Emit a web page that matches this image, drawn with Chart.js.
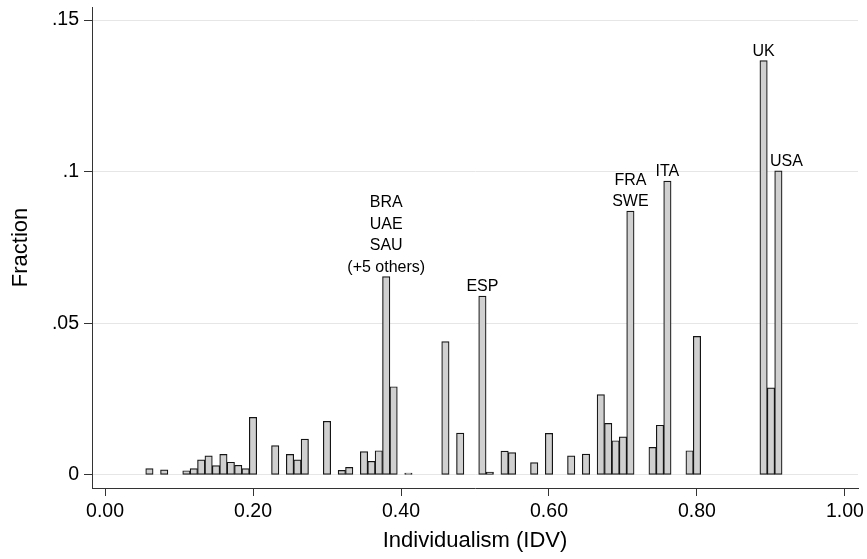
<!DOCTYPE html>
<html><head><meta charset="utf-8">
<script src="https://cdn.jsdelivr.net/npm/chart.js@4/dist/chart.umd.min.js"></script>
<style>html,body{margin:0;padding:0;background:#fff}</style>
</head><body>
<canvas id="c" width="867" height="559"></canvas>
<script>
// ---- data ----
const idvBins = [0.06,0.08,0.11,0.12,0.13,0.14,0.15,0.16,0.17,0.18,0.19,0.20,
  0.23,0.25,0.26,0.27,0.30,0.32,0.33,0.35,0.36,0.37,0.38,0.39,0.41,
  0.46,0.48,0.51,0.52,0.54,0.55,0.58,0.60,0.63,0.65,
  0.67,0.68,0.69,0.70,0.71,0.74,0.75,0.76,0.79,0.80,0.89,0.90,0.91];
const fractions = [0.0021,0.0017,0.0014,0.0021,0.0050,0.0063,0.0031,0.0068,0.0042,0.0032,0.0021,0.0190,
  0.0097,0.0068,0.0050,0.0118,0.0177,0.0015,0.0025,0.0077,0.0045,0.0080,0.0654,0.0291,0.0006,
  0.0440,0.0138,0.0590,0.0010,0.0079,0.0074,0.0041,0.0137,0.0063,0.0069,
  0.0265,0.0170,0.0113,0.0126,0.0870,0.0091,0.0164,0.0969,0.0080,0.0457,0.1366,0.0287,0.1003];
const xTickValues = [0, 0.2, 0.4, 0.6, 0.8, 1.0];
const yTickValues = [0, 0.05, 0.10, 0.15];
const labelBins = [0.38, 0.51, 0.71, 0.76, 0.89, 0.91];
const labelTexts = [["BRA","UAE","SAU","(+5 others)"], ["ESP"], ["FRA","SWE"], ["ITA"], ["UK"], ["USA"]];

// ---- styling ----
const FONT = '"Liberation Sans", Arial, Helvetica, sans-serif';
const labelShiftX = {0.91: 8};

const labelPlugin = {
  id: 'countryLabels',
  afterDatasetsDraw(chart) {
    const ctx = chart.ctx, xs = chart.scales.x, ys = chart.scales.y;
    ctx.save();
    ctx.font = '16px ' + FONT;
    ctx.fillStyle = '#000';
    ctx.textAlign = 'center';
    ctx.textBaseline = 'alphabetic';
    labelBins.forEach((b, i) => {
      const idx = idvBins.indexOf(b);
      const v = fractions[idx];
      const x = xs.getPixelForValue(b) + (labelShiftX[b] || 0);
      const yTop = ys.getPixelForValue(v) - 5;
      const lines = labelTexts[i];
      for (let k = lines.length - 1, j = 0; k >= 0; k--, j++) {
        ctx.fillText(lines[k], x, yTop - j * 21.5);
      }
    });
    ctx.restore();
  }
};

new Chart(document.getElementById('c'), {
  type: 'bar',
  data: {
    datasets: [{
      data: idvBins.map((b, i) => ({x: b, y: fractions[i]})),
      backgroundColor: '#d0d0d0',
      borderColor: '#151515',
      borderWidth: 1.2,
      borderSkipped: false,
      barPercentage: 1,
      categoryPercentage: 1
    }]
  },
  plugins: [labelPlugin],
  options: {
    responsive: false,
    animation: false,
    devicePixelRatio: 1,
    layout: {padding: {top: 7, right: 9, left: 0, bottom: 0}},
    plugins: {legend: {display: false}, tooltip: {enabled: false}},
    scales: {
      x: {
        type: 'linear', min: -0.0176, max: 1.0176, offset: false,
        afterBuildTicks: s => { s.ticks = xTickValues.map(v => ({value: v})); },
        afterFit: s => { s.height = 71; s.paddingLeft = 0; s.paddingRight = 0; },
        grid: {display: true, drawOnChartArea: false, drawTicks: true, tickLength: 8, tickColor: '#333', offset: false},
        border: {display: true, color: '#333', width: 1},
        ticks: {callback: v => Number(v).toFixed(2), font: {family: FONT, size: 19.5}, color: '#000', padding: 4, maxRotation: 0, autoSkip: false},
        title: {display: true, text: 'Individualism (IDV)', font: {family: FONT, size: 22}, color: '#000', padding: {top: 0, bottom: 5}}
      },
      y: {
        type: 'linear', min: -0.00429, max: 0.1543,
        afterBuildTicks: s => { s.ticks = yTickValues.map(v => ({value: v})); },
        afterFit: s => { s.width = 92; s.paddingTop = 0; s.paddingBottom = 0; },
        grid: {color: '#e6e6e6', tickColor: '#333', tickLength: 8, lineWidth: 1},
        border: {display: true, color: '#333', width: 1},
        ticks: {callback: v => v === 0 ? '0' : String(Number(v.toFixed(2))).replace(/^0/, ''), font: {family: FONT, size: 19.5}, color: '#000', padding: 5},
        title: {display: true, text: 'Fraction', font: {family: FONT, size: 22}, color: '#000', padding: {top: 8, bottom: 0}}
      }
    }
  }
});
</script>
</body></html>
